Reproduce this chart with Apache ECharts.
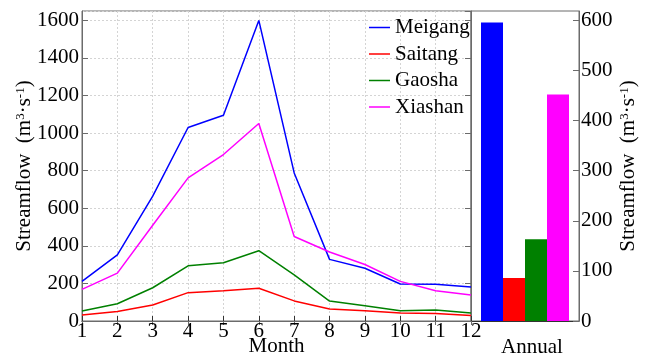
<!DOCTYPE html>
<html>
<head>
<meta charset="utf-8">
<script src="https://cdn.jsdelivr.net/npm/echarts@6/dist/echarts.min.js"></script>
<style>
  html, body { margin: 0; padding: 0; background: #fff; }
  #chart { width: 649px; height: 359px; }
</style>
</head>
<body>
<div id="chart"></div>
<script>
// Monthly mean streamflow (m3/s) at four hydrological stations
const months = [1, 2, 3, 4, 5, 6, 7, 8, 9, 10, 11, 12];
const stations = ['Meigang', 'Saitang', 'Gaosha', 'Xiashan'];
const meigang = [211, 352, 665, 1030, 1095, 1600, 788, 328, 281, 197, 196, 181];
const saitang = [32, 50, 85, 151, 161, 174, 107, 64, 54, 43, 40, 29];
const gaosha  = [53, 92, 177, 294, 310, 374, 245, 106, 81, 55, 58, 43];
const xiashan = [168, 255, 510, 762, 886, 1051, 450, 367, 301, 211, 161, 138];
// Annual mean streamflow per station
const annualCategory = ['Annual'];
const annual = [596, 86, 163, 452];

const colors = ['#0000ff', '#ff0000', '#008000', '#ff00ff'];
const monthly = [meigang, saitang, gaosha, xiashan];

const FONT = '"Liberation Serif", "Times New Roman", serif';
const FS = 21;
const frame = '#6b6b6b';

// monthly scale 0..1650, annual scale shares the same pixel ratio (600 : 1600)
const leftMax = 1650;
const rightMax = leftMax * 600 / 1600;

const titleRich = {
  t: { fontFamily: FONT, fontSize: FS, color: '#000' },
  sup: { fontFamily: FONT, fontSize: 13, color: '#000', verticalAlign: 'top', padding: [0, 0, 6, 0] }
};
const titleText = '{t|Streamflow  (m}{sup|3}{t|·s}{sup|-1}{t|)}';

const chart = echarts.init(document.getElementById('chart'), null, { renderer: 'canvas' });

const lineSeries = stations.map((name, i) => ({
  name: name,
  type: 'line',
  xAxisIndex: 0,
  yAxisIndex: 0,
  data: months.map((m, k) => [m, monthly[i][k]]),
  showSymbol: false,
  symbol: 'none',
  lineStyle: { color: colors[i], width: 1.5 },
  itemStyle: { color: colors[i] },
  silent: true,
  animation: false,
  z: 3
}));

const barSeries = stations.map((name, i) => ({
  name: name + ' annual',
  type: 'bar',
  xAxisIndex: 2,
  yAxisIndex: 2,
  data: [annual[i]],
  barWidth: 22,
  barGap: '0%',
  itemStyle: { color: colors[i] },
  silent: true,
  animation: false
}));

chart.setOption({
  animation: false,
  textStyle: { fontFamily: FONT },
  grid: [
    { left: 82, right: 178, top: 11, bottom: 38, show: true, borderColor: frame, borderWidth: 1, containLabel: false, outerBoundsMode: 'none' },
    { left: 471, right: 70, top: 11, bottom: 38, show: true, borderColor: frame, borderWidth: 1, containLabel: false, outerBoundsMode: 'none' }
  ],
  legend: {
    data: stations,
    orient: 'vertical',
    left: 364,
    top: 12,
    icon: 'rect',
    itemWidth: 21,
    itemHeight: 1.5,
    itemGap: 5.5,
    selectedMode: false,
    textStyle: { fontFamily: FONT, fontSize: FS, lineHeight: FS, color: '#000' }
  },
  xAxis: [
    {
      type: 'value', gridIndex: 0, min: 1, max: 12, interval: 1,
      name: 'Month', nameLocation: 'middle', nameGap: 15, nameMoveOverlap: false,
      nameTextStyle: { fontFamily: FONT, fontSize: FS, color: '#000' },
      axisLine: { show: true, lineStyle: { color: '#333', width: 1 } },
      axisTick: { show: true, inside: true, length: 5, lineStyle: { color: '#333' } },
      axisLabel: { fontFamily: FONT, fontSize: FS, color: '#000', margin: 0 },
      splitLine: { show: true, lineStyle: { color: '#d4d4d4', type: [2, 2], width: 1 } }
    },
    {
      type: 'value', gridIndex: 0, min: 1, max: 12, interval: 1, position: 'top',
      axisLine: { show: true, lineStyle: { color: frame } },
      axisTick: { show: true, inside: true, length: 4, lineStyle: { color: frame } },
      axisLabel: { show: false },
      splitLine: { show: false }
    },
    {
      type: 'category', gridIndex: 1, data: annualCategory,
      axisLine: { show: true, lineStyle: { color: '#333', width: 1 } },
      axisTick: { show: false },
      axisLabel: { fontFamily: FONT, fontSize: FS, color: '#000', margin: 16, padding: [0, 0, 0, 14] },
      splitLine: { show: false }
    }
  ],
  yAxis: [
    {
      type: 'value', gridIndex: 0, min: 0, max: leftMax, interval: 200, position: 'left',
      name: titleText, nameLocation: 'middle', nameGap: 47, nameRotate: 90, nameMoveOverlap: false,
      nameTextStyle: { rich: titleRich },
      axisLine: { show: true, lineStyle: { color: frame } },
      axisTick: { show: true, inside: true, length: 6, lineStyle: { color: frame } },
      axisLabel: {
        fontFamily: FONT, fontSize: FS, color: '#000', margin: 3,
        showMaxLabel: false,
        formatter: v => (v % 200 === 0 ? String(v) : '')
      },
      splitLine: { show: true, lineStyle: { color: '#d4d4d4', type: [2, 2], width: 1 } }
    },
    {
      type: 'value', gridIndex: 0, min: 0, max: leftMax, interval: 200, position: 'right',
      axisLine: { show: true, lineStyle: { color: frame } },
      axisTick: { show: true, inside: true, length: 6, lineStyle: { color: frame } },
      axisLabel: { show: false },
      splitLine: { show: false }
    },
    {
      type: 'value', gridIndex: 1, min: 0, max: rightMax, interval: 100, position: 'right',
      name: titleText, nameLocation: 'middle', nameGap: 39, nameRotate: 90, nameMoveOverlap: false,
      nameTextStyle: { rich: titleRich },
      axisLine: { show: true, lineStyle: { color: frame } },
      axisTick: { show: true, inside: true, length: 6, lineStyle: { color: frame } },
      axisLabel: {
        fontFamily: FONT, fontSize: FS, color: '#000', margin: 2,
        showMaxLabel: false,
        formatter: v => (v % 100 === 0 ? String(v) : '')
      },
      splitLine: { show: false }
    }
  ],
  series: lineSeries.concat(barSeries)
});
</script>
</body>
</html>
